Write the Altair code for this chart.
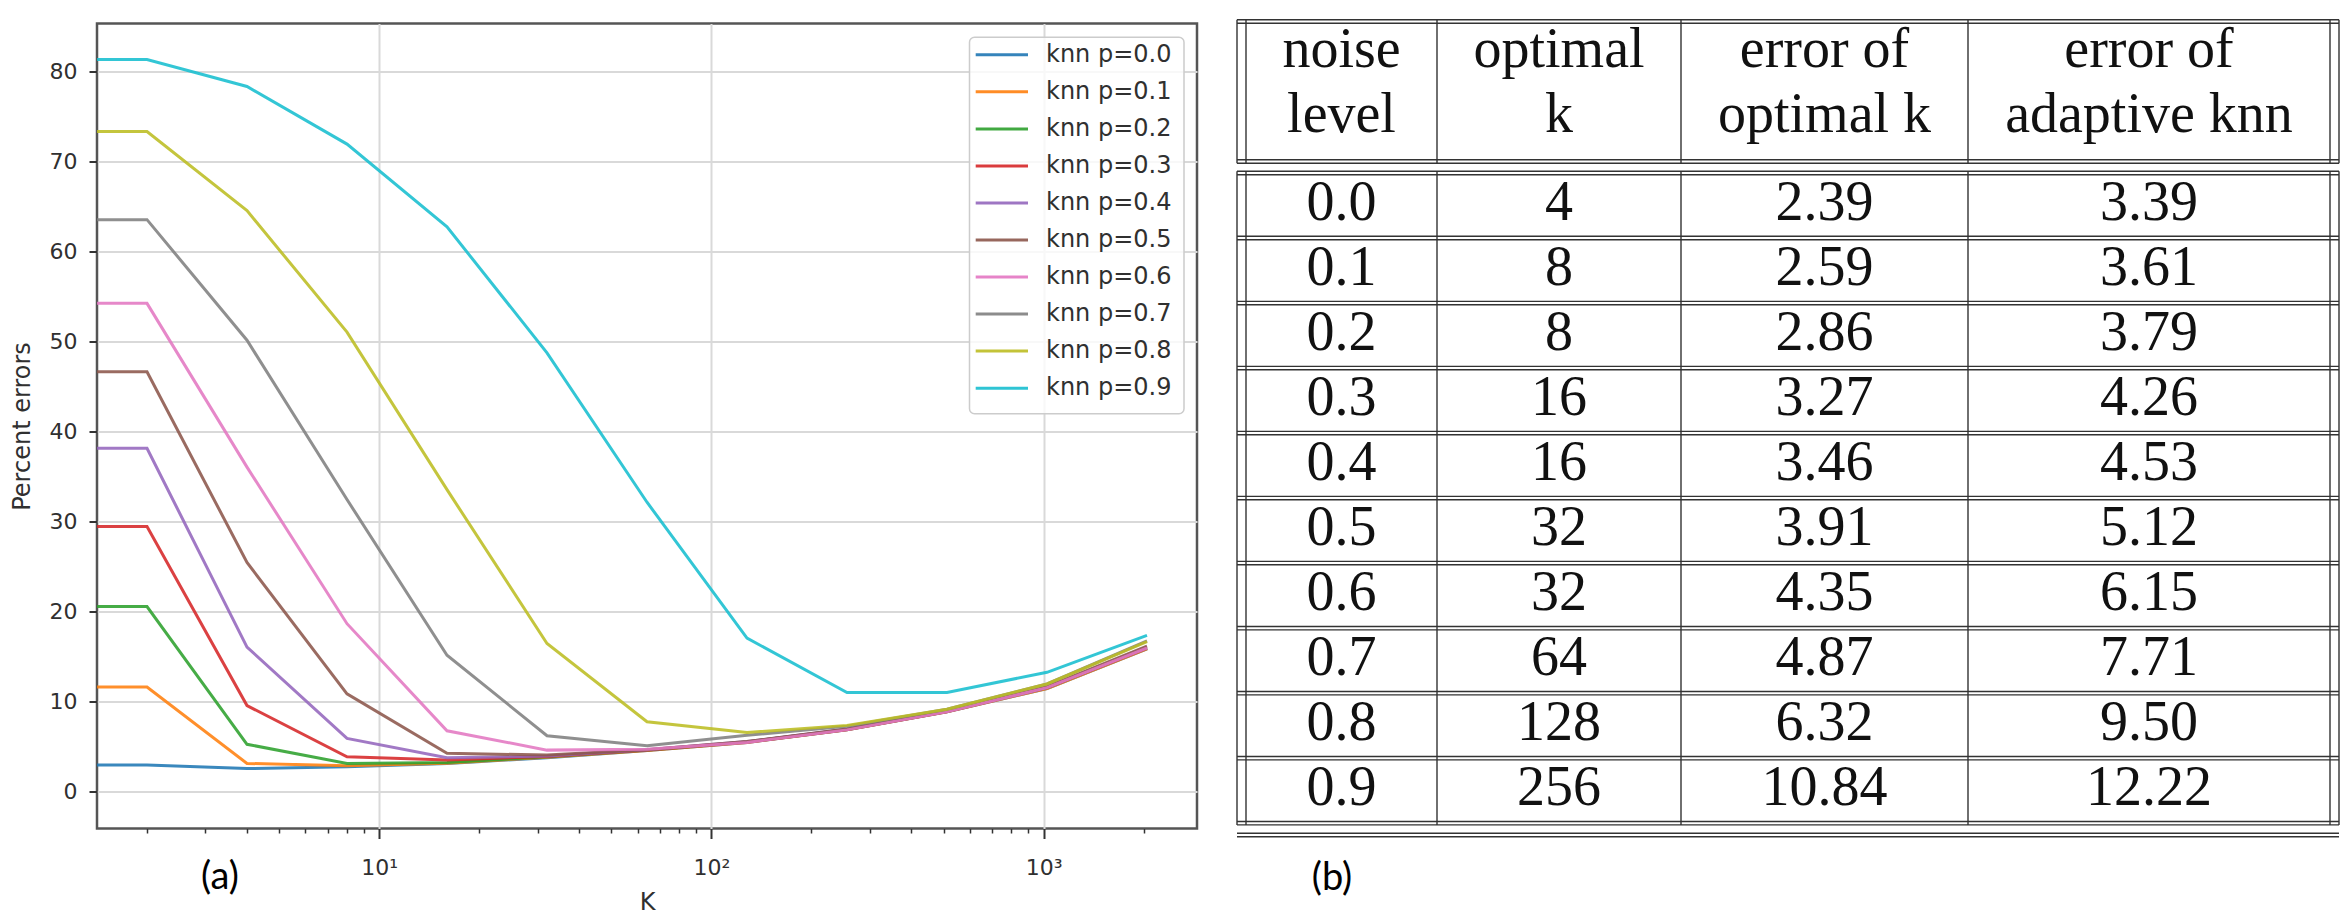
import altair as alt
import pandas as pd

# ------------------------------------------------------------------
# Panel (a) data: percent errors of knn vs K for several noise levels
# ------------------------------------------------------------------
K_VALUES = [1, 2, 4, 8, 16, 32, 64, 128, 256, 512, 1024, 2048]
SERIES = ["knn p=0.0", "knn p=0.1", "knn p=0.2", "knn p=0.3", "knn p=0.4",
          "knn p=0.5", "knn p=0.6", "knn p=0.7", "knn p=0.8", "knn p=0.9"]
ERR_P00 = [2.89, 2.89, 2.5, 2.7, 3.07, 3.7, 4.5, 5.4, 6.8, 8.8, 11.4, 15.8]
ERR_P01 = [11.56, 11.56, 3.07, 2.8, 3.1, 3.75, 4.5, 5.4, 6.8, 8.8, 11.4, 15.8]
ERR_P02 = [20.5, 20.5, 5.2, 3.07, 3.18, 3.8, 4.55, 5.45, 6.85, 8.85, 11.5, 15.9]
ERR_P03 = [29.4, 29.4, 9.5, 3.8, 3.45, 3.85, 4.55, 5.45, 6.85, 8.85, 11.5, 15.9]
ERR_P04 = [38.1, 38.1, 16.0, 5.85, 3.7, 3.9, 4.6, 5.5, 6.9, 8.9, 11.5, 16.0]
ERR_P05 = [46.6, 46.6, 25.4, 10.8, 4.2, 4.0, 4.6, 5.5, 6.9, 8.9, 11.6, 16.1]
ERR_P06 = [54.2, 54.2, 36.0, 18.6, 6.7, 4.55, 4.65, 5.4, 6.8, 8.8, 11.5, 15.9]
ERR_P07 = [63.5, 63.5, 50.1, 32.4, 15.1, 6.15, 5.04, 6.2, 7.2, 9.1, 11.9, 16.7]
ERR_P08 = [73.3, 73.3, 64.5, 51.0, 33.5, 16.4, 7.7, 6.5, 7.3, 9.1, 11.9, 16.6]
ERR_P09 = [81.3, 81.3, 78.3, 71.9, 62.7, 48.7, 32.1, 17.0, 10.96, 10.96, 13.2, 17.3]
ERRORS = [ERR_P00, ERR_P01, ERR_P02, ERR_P03, ERR_P04,
          ERR_P05, ERR_P06, ERR_P07, ERR_P08, ERR_P09]

Y_TICKS = [0, 10, 20, 30, 40, 50, 60, 70, 80]
X_MAJOR = [10, 100, 1000]
X_MINOR = [2, 3, 4, 5, 6, 7, 8, 9, 20, 30, 40, 50, 60, 70, 80, 90,
           200, 300, 400, 500, 600, 700, 800, 900, 2000]

# ------------------------------------------------------------------
# Panel (b) data: table
# ------------------------------------------------------------------
HEADER_1 = ["noise", "optimal", "error of", "error of"]
HEADER_2 = ["level", "k", "optimal k", "adaptive knn"]
NOISE = ["0.0", "0.1", "0.2", "0.3", "0.4", "0.5", "0.6", "0.7", "0.8", "0.9"]
OPT_K = ["4", "8", "8", "16", "16", "32", "32", "64", "128", "256"]
ERR_OPT = ["2.39", "2.59", "2.86", "3.27", "3.46", "3.91", "4.35", "4.87", "6.32", "10.84"]
ERR_ADA = ["3.39", "3.61", "3.79", "4.26", "4.53", "5.12", "6.15", "7.71", "9.50", "12.22"]

# ------------------------------------------------------------------
# styles
# ------------------------------------------------------------------
TAB10 = ["#1f77b4", "#ff7f0e", "#2ca02c", "#d62728", "#9467bd",
         "#8c564b", "#e377c2", "#7f7f7f", "#bcbd22", "#17becf"]
FONT = "DejaVu Sans"
TXT = "#303030"
GRID = "#d9d9d9"
TICK = "#333333"

W, H = 1100, 805

# ---------------- panel (a) ----------------
rows = []
for name, vals in zip(SERIES, ERRORS):
    for k, v in zip(K_VALUES, vals):
        rows.append({"series": name, "k": k, "err": v})
df = pd.DataFrame(rows)

x_scale = alt.Scale(type="log", domain=[2 ** 0.5, 2048 * 2 ** 0.5], nice=False)
y_scale = alt.Scale(domain=[-4.16, 85.3], nice=False, zero=False)
color_scale = alt.Scale(domain=SERIES, range=TAB10)

label_expr = ("datum.value == 10 ? '10\u00b9' : "
              "(datum.value == 100 ? '10\u00b2' : '10\u00b3')")

lines = alt.Chart(df).mark_line(strokeWidth=3, clip=True, opacity=0.88).encode(
    x=alt.X("k:Q", scale=x_scale,
            axis=alt.Axis(values=X_MAJOR, labelExpr=label_expr, title="K",
                          orient="bottom", grid=True, gridColor=GRID, gridWidth=2,
                          domain=False, tickSize=10, tickWidth=2, tickColor=TICK,
                          labelFont=FONT, labelFontSize=22, labelColor=TXT,
                          labelPadding=19, titleFont=FONT, titleFontSize=24,
                          titleFontWeight="normal", titleColor=TXT,
                          titlePadding=21.5, minExtent=40, maxExtent=40)),
    y=alt.Y("err:Q", scale=y_scale,
            axis=alt.Axis(values=Y_TICKS, title="Percent errors", grid=True,
                          gridColor=GRID, gridWidth=2, domain=False,
                          tickSize=8, tickWidth=2, tickColor=TICK,
                          labelFont=FONT, labelFontSize=22, labelColor=TXT,
                          labelPadding=12, titleFont=FONT, titleFontSize=24,
                          titleFontWeight="normal", titleColor=TXT,
                          titlePadding=15, minExtent=48, maxExtent=48)),
    color=alt.Color("series:N", scale=color_scale, legend=None),
)

minor = alt.Chart(df).mark_point(opacity=0, clip=True).encode(
    x=alt.X("k:Q", scale=x_scale,
            axis=alt.Axis(values=X_MINOR, labels=False, orient="bottom",
                          grid=False, domain=False, tickSize=4.5,
                          tickWidth=1.5, tickColor=TICK, title="")),
)

leg_df = pd.DataFrame({"series": SERIES, "idx": list(range(len(SERIES)))})
legend_box = alt.Chart(pd.DataFrame({"a": [0]})).mark_rect(
    fill="white", fillOpacity=0.8, stroke="#cccccc", strokeWidth=1.5,
    cornerRadius=5).encode(
    x=alt.value(872.5), x2=alt.value(1087), y=alt.value(13.7), y2=alt.value(390.3))
legend_lines = alt.Chart(leg_df).transform_calculate(
    py="31.3 + 37.04 * datum.idx").mark_rule(strokeWidth=3, opacity=0.9).encode(
    x=alt.value(878.7), x2=alt.value(931),
    y=alt.Y("py:Q", scale=None),
    color=alt.Color("series:N", scale=color_scale, legend=None))
legend_text = alt.Chart(leg_df).transform_calculate(
    py="31.3 + 37.04 * datum.idx").mark_text(
    align="left", baseline="middle", font=FONT, fontSize=24, color=TXT).encode(
    x=alt.value(949), y=alt.Y("py:Q", scale=None), text="series:N")

label_a = alt.Chart(pd.DataFrame({"t": ["(a)"]})).mark_text(
    font="Lato", fontSize=38, color="black", align="center", baseline="middle").encode(
    x=alt.value(123), y=alt.value(854), text="t:N")

left = alt.layer(lines, minor, legend_box, legend_lines, legend_text, label_a).resolve_axis(
    x="independent").properties(
    width=W, height=H,
    view=alt.ViewBackground(stroke="#555555", strokeWidth=2.5))

# ---------------- panel (b): table ----------------
TW = 1102
COL_EDGES = [0, 9, 200, 444, 731, 1093, 1102]   # layout of columns
CENTERS = [(COL_EDGES[j + 1] + COL_EDGES[j + 2]) / 2 for j in range(4)]
H_TOP, H_BOT = -2.0, 138.0
B_TOP, ROW_H = 149.5, 65.02
N = len(NOISE)
B_END = B_TOP + N * ROW_H
FINAL = 811.5
GAP = 1.7
HDR_BASE = [43.7, 108.7]
BODY_OFF = 47.3

h_list = []
for c in [H_TOP, H_BOT] + [B_TOP + ROW_H * i for i in range(N + 1)] + [FINAL]:
    for d in (-GAP, GAP):
        h_list.append({"x1": 0, "x2": TW, "y": c + d})
hdf = pd.DataFrame(h_list)

v_list = []
for xe in COL_EDGES:
    v_list.append({"x": xe, "y1": H_TOP - GAP, "y2": H_BOT + GAP})
    v_list.append({"x": xe, "y1": B_TOP - GAP, "y2": B_END + GAP})
vdf = pd.DataFrame(v_list)

c_list = []
for j in range(4):
    c_list.append({"text": HEADER_1[j], "x": CENTERS[j], "y": HDR_BASE[0]})
    c_list.append({"text": HEADER_2[j], "x": CENTERS[j], "y": HDR_BASE[1]})
for i in range(N):
    for j, col in enumerate([NOISE, OPT_K, ERR_OPT, ERR_ADA]):
        c_list.append({"text": col[i], "x": CENTERS[j], "y": B_TOP + BODY_OFF + ROW_H * i})
cdf = pd.DataFrame(c_list)

x_t = alt.Scale(domain=[0, TW], nice=False, zero=False)
y_t = alt.Scale(domain=[0, H], nice=False, zero=False, reverse=True)
LINE = "#333333"

h_rules = alt.Chart(hdf).mark_rule(color=LINE, strokeWidth=1.4).encode(
    x=alt.X("x1:Q", scale=x_t, axis=None), x2="x2:Q",
    y=alt.Y("y:Q", scale=y_t, axis=None))
v_rules = alt.Chart(vdf).mark_rule(color=LINE, strokeWidth=1.4).encode(
    x=alt.X("x:Q", scale=x_t, axis=None),
    y=alt.Y("y1:Q", scale=y_t, axis=None), y2="y2:Q")
cells = alt.Chart(cdf).mark_text(
    font="Liberation Serif", fontSize=56, color="#111111",
    align="center", baseline="alphabetic").encode(
    x=alt.X("x:Q", scale=x_t, axis=None),
    y=alt.Y("y:Q", scale=y_t, axis=None), text="text:N")
label_b = alt.Chart(pd.DataFrame({"t": ["(b)"]})).mark_text(
    font="Lato", fontSize=38, color="black", align="center", baseline="middle").encode(
    x=alt.value(95), y=alt.value(855), text="t:N")

table = alt.layer(h_rules, v_rules, cells, label_b).properties(
    width=TW, height=H, view=alt.ViewBackground(stroke="transparent"))

chart = alt.hconcat(left, table, spacing=40, bounds="flush").properties(
    padding={"left": 0, "top": 10.5, "right": 2, "bottom": 0}
).configure_view(stroke="transparent")

chart.save("out.html", embed_options={"renderer": "svg", "actions": False})
